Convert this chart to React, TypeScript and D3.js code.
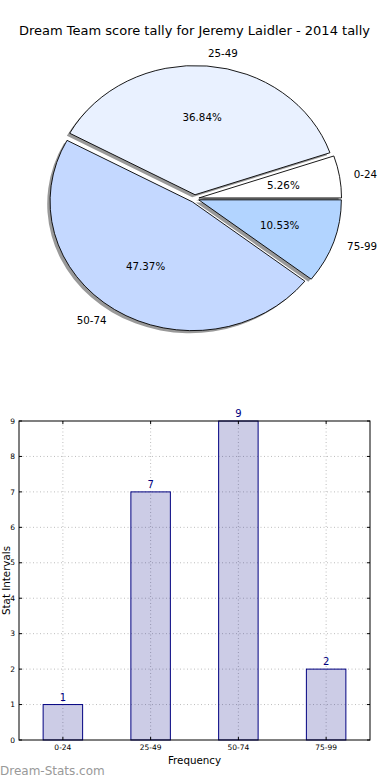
import React from 'react';
import * as d3 from 'd3';

const title = 'Dream Team score tally for Jeremy Laidler - 2014 tally';
const buckets = ['0-24', '25-49', '50-74', '75-99'];
const counts = [1, 7, 9, 2];
const sliceColors = ['#ffffff', '#e9f1ff', '#c4d8ff', '#b2d4ff'];
const yTicks = [0, 1, 2, 3, 4, 5, 6, 7, 8, 9];

const W = 390;
const H = 780;
const FONT = 'DejaVu Sans, sans-serif';

// pie geometry (matplotlib-style ellipse since the axes are not equal)
const pieCx = 194.7;
const pieCy = 198.6;
const rx = 142.6;
const ry = 129.2;
const explode = 0.03;

// bar axes box
const box = { left: 19, right: 370, top: 421, bottom: 740 };

export default function App() {
  const total = d3.sum(counts);

  // matplotlib: counter-clockwise from 3 o'clock
  const pie = d3.pie<number>().sort(null).value(d => d)(counts);
  const slices = pie.map((p, i) => {
    const t1 = p.startAngle;
    const t2 = p.endAngle;
    const tm = (t1 + t2) / 2;
    const ox = explode * Math.cos(tm);
    const oy = -explode * Math.sin(tm);
    return { i, t1, t2, tm, ox, oy };
  });

  const unitArc = d3.arc<{ startAngle: number; endAngle: number }>()
    .innerRadius(0)
    .outerRadius(1);

  const arcPath = (t1: number, t2: number) =>
    unitArc({ startAngle: Math.PI / 2 - t1, endAngle: Math.PI / 2 - t2 }) || '';

  const x = d3.scaleLinear().domain([-0.5, 3.5]).range([box.left, box.right]);
  const y = d3.scaleLinear().domain([0, 9]).range([box.bottom, box.top]);
  const barW = (x(0.45) - x(0));

  return (
    <svg width={W} height={H} style={{ position: 'absolute', left: 0, top: 0, background: '#fff' }}
      fontFamily={FONT}>
      <rect width={W} height={H} fill="#fff" />
      <text x={194.5} y={35} textAnchor="middle" fontSize={13} fill="#000">{title}</text>

      {/* shadows */}
      {slices.map(s => (
        <path key={'sh' + s.i} d={arcPath(s.t1, s.t2)}
          transform={`translate(${pieCx + (s.ox - 0.02) * rx},${pieCy + (s.oy + 0.02) * ry}) scale(${rx},${ry})`}
          fill="#000" fillOpacity={0.4} stroke="none" />
      ))}
      {/* wedges */}
      {slices.map(s => (
        <path key={'w' + s.i} d={arcPath(s.t1, s.t2)}
          transform={`translate(${pieCx + s.ox * rx},${pieCy + s.oy * ry}) scale(${rx},${ry})`}
          fill={sliceColors[s.i]} stroke="#000" strokeWidth={0.9}
          vectorEffect="non-scaling-stroke" strokeLinejoin="round" />
      ))}
      {/* labels */}
      {slices.map(s => {
        const cx = pieCx + s.ox * rx;
        const cy = pieCy + s.oy * ry;
        const lx = cx + 1.1 * rx * Math.cos(s.tm);
        const ly = cy - 1.1 * ry * Math.sin(s.tm);
        const px = cx + 0.6 * rx * Math.cos(s.tm);
        const py = cy - 0.6 * ry * Math.sin(s.tm);
        return (
          <g key={'l' + s.i} fontSize={10.3} fill="#000">
            <text x={lx} y={ly} dy="0.35em" textAnchor={Math.cos(s.tm) > 0 ? 'start' : 'end'}>
              {buckets[s.i]}
            </text>
            <text x={px} y={py} dy="0.35em" textAnchor="middle">
              {(counts[s.i] / total * 100).toFixed(2)}%
            </text>
          </g>
        );
      })}

      {/* bar chart grid */}
      <g stroke="#bdbdbd" strokeWidth={1} strokeDasharray="1,2.5">
        {yTicks.slice(1, -1).map(t => (
          <line key={'gy' + t} x1={box.left} x2={box.right} y1={y(t)} y2={y(t)} />
        ))}
        {buckets.map((b, i) => (
          <line key={'gx' + b} x1={x(i)} x2={x(i)} y1={box.top} y2={box.bottom} />
        ))}
      </g>
      {/* bars */}
      {counts.map((c, i) => (
        <g key={'b' + i}>
          <rect x={x(i) - barW / 2} y={y(c)} width={barW} height={y(0) - y(c)}
            fill="#000080" fillOpacity={0.2} stroke="#000080" strokeWidth={1} />
          <text x={x(i)} y={y(c) - 4} textAnchor="middle" fontSize={10} fill="#000080">{c}</text>
        </g>
      ))}
      {/* axes frame */}
      <rect x={box.left} y={box.top} width={box.right - box.left} height={box.bottom - box.top}
        fill="none" stroke="#000" strokeWidth={1} />
      {/* y ticks */}
      {yTicks.map(t => (
        <g key={'ty' + t}>
          <line x1={box.left} x2={box.left + 3} y1={y(t)} y2={y(t)} stroke="#000" />
          <line x1={box.right - 3} x2={box.right} y1={y(t)} y2={y(t)} stroke="#000" />
          <text x={box.left - 4} y={y(t)} dy="0.35em" textAnchor="end" fontSize={7.5} fill="#000">{t}</text>
        </g>
      ))}
      {/* x ticks */}
      {buckets.map((b, i) => (
        <g key={'tx' + b}>
          <line x1={x(i)} x2={x(i)} y1={box.bottom} y2={box.bottom - 3} stroke="#000" />
          <line x1={x(i)} x2={x(i)} y1={box.top} y2={box.top + 3} stroke="#000" />
          <text x={x(i)} y={box.bottom + 10} textAnchor="middle" fontSize={7.5} fill="#000">{b}</text>
        </g>
      ))}
      <text x={194.5} y={764} textAnchor="middle" fontSize={10.3} fill="#000">Frequency</text>
      <text transform={`translate(9.5,${(box.top + box.bottom) / 2}) rotate(-90)`} textAnchor="middle"
        fontSize={10.3} fill="#000">Stat Intervals</text>
      <text x={0} y={775} fontSize={12} fill="#999">Dream-Stats.com</text>
    </svg>
  );
}
